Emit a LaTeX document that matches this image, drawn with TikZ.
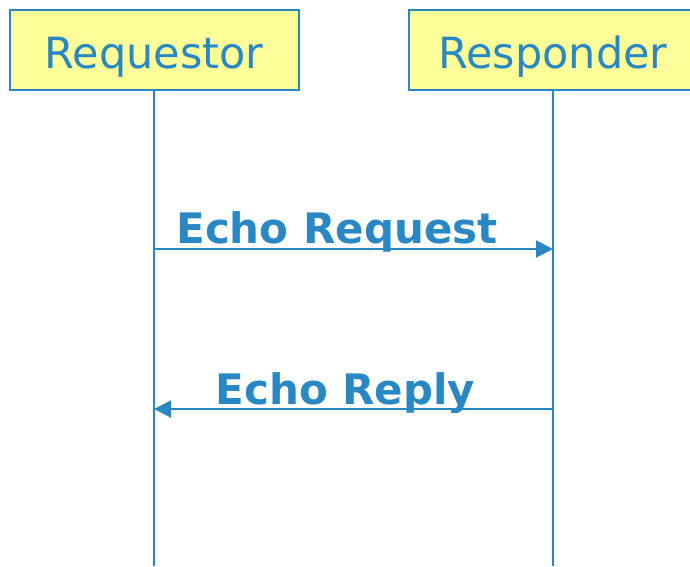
\documentclass[tikz,border=0pt]{standalone}
\usepackage{fontspec}
\setmainfont{DejaVu Sans}
\usetikzlibrary{calc, positioning}
\usetikzlibrary{arrows.meta}

\definecolor{seqblue}{RGB}{41,136,196}
\definecolor{seqyellow}{RGB}{255,255,153}

\tikzset{
  partybox/.style={draw=seqblue, fill=seqyellow, line width=2pt,
    minimum width=289pt, minimum height=80pt, text=seqblue,
    text height=48pt, text depth=11pt,
    font=\fontsize{43}{50}\selectfont},
  lifeline/.style={draw=seqblue, line width=2pt},
  msgarrow/.style={draw=seqblue, line width=2pt, -{Triangle[length=17pt, width=17pt]}},
  msglabel/.style={anchor=base, text=seqblue, inner sep=0pt,
    font=\fontsize{42}{50}\selectfont\bfseries}
}

\begin{document}
\begin{tikzpicture}[x=1pt, y=-1pt]
\useasboundingbox (0,0) rectangle (690,566);

\node[partybox] (req) at (154,49.5) {Requestor};
\node[partybox] (resp) at (553,49.5) {Responder};

\coordinate (reqend) at (154,566);
\coordinate (respend) at (553,566);
\coordinate (reqout) at (154,249);
\coordinate (respin) at (553,249);
\coordinate (respout) at (553,409);
\coordinate (reqin) at (154,409);

\draw[lifeline] (req.south) -- (reqend);
\draw[lifeline] (resp.south) -- (respend);

\draw[msgarrow] (reqout) -- (respin);
\node[msglabel] (echoreq) at (337,243) {Echo Request};

\draw[msgarrow] (respout) -- (reqin);
\node[msglabel] (echorep) at (345.5,404) {Echo Reply};
\end{tikzpicture}
\end{document}
